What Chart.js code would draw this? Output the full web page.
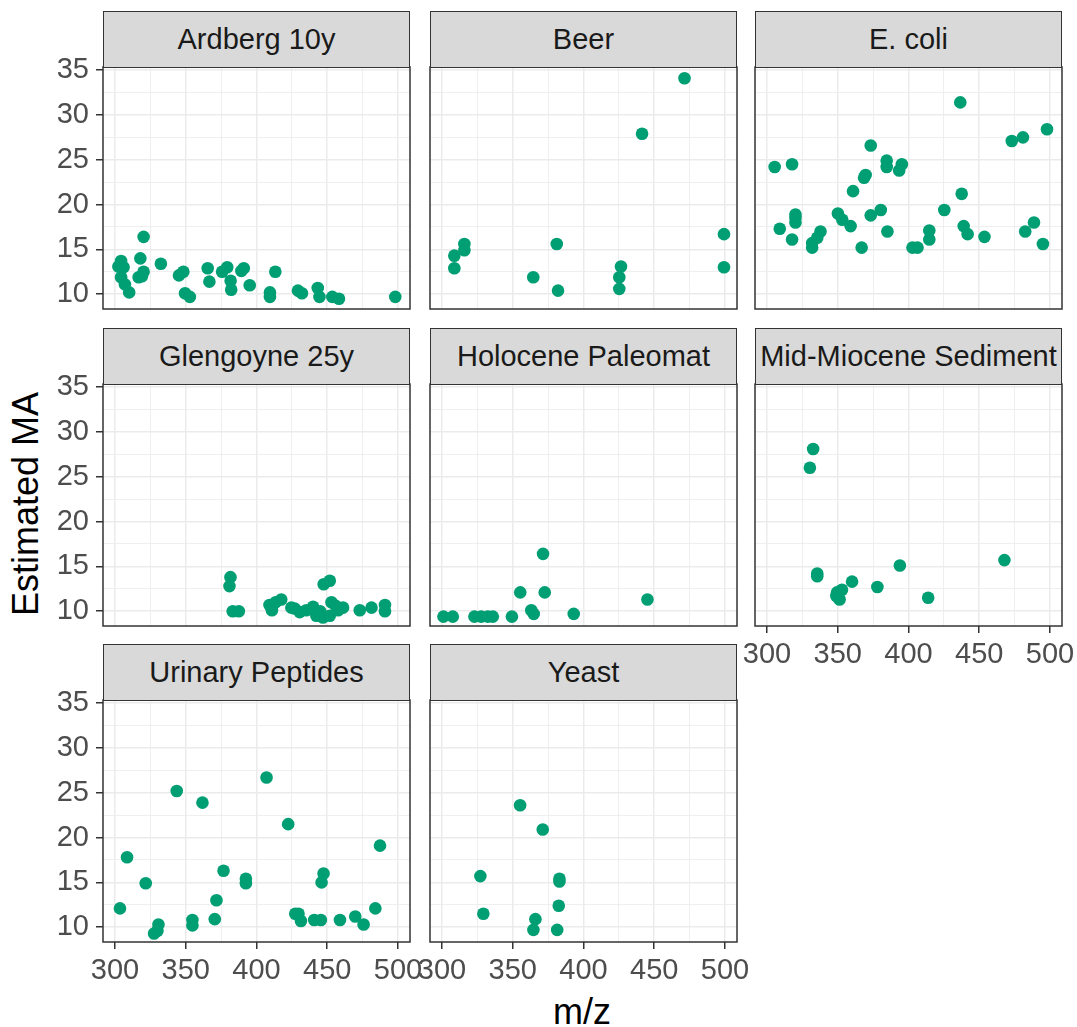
<!DOCTYPE html>
<html>
<head>
<meta charset="utf-8">
<script src="https://cdn.jsdelivr.net/npm/chart.js@4.4.1/dist/chart.umd.min.js"></script>
<style>
  body { margin: 0; background: #fff; width: 1077px; height: 1027px; position: relative; overflow: hidden;
         font-family: "Liberation Sans", Arial, sans-serif; }
  .panel { position: absolute; }
  .strip { position: absolute; box-sizing: border-box; background: #d9d9d9; border: 1.5px solid #333;
           color: #1a1a1a; font-size: 29px; display: flex; align-items: center; justify-content: center;
           white-space: nowrap; }
  .title { position: absolute; color: #000; font-size: 36px; white-space: nowrap; }
</style>
</head>
<body>
<div class="title" id="xtitle">m/z</div>
<div class="title" id="ytitle">Estimated MA</div>
<script>
const panelNames = ['Ardberg 10y', 'Beer', 'E. coli', 'Glengoyne 25y', 'Holocene Paleomat',
                    'Mid-Miocene Sediment', 'Urinary Peptides', 'Yeast'];

const mzTicks = [300, 325, 350, 375, 400, 425, 450, 475, 500];
const mzLabels = [300, 350, 400, 450, 500];
const maTicks = [10, 12.5, 15, 17.5, 20, 22.5, 25, 27.5, 30, 32.5, 35];
const maLabels = [10, 15, 20, 25, 30, 35];

const ardbergMz = [302.4, 304.3, 306, 304.3, 307, 310, 317.9, 320.2, 316.7, 319, 320.2, 332.4, 345.2, 348.3,
                   349.5, 352.9, 365.5, 366.7, 375.7, 379.3, 381.7, 382.1, 389.3, 391, 395.2, 409.5, 409.5,
                   413.3, 429.3, 432.1, 443.3, 444.5, 453.6, 458.3, 498.1];
const ardbergMa = [13.1, 13.7, 13.0, 11.9, 11.1, 10.2, 14.0, 12.5, 11.9, 12.0, 16.4, 13.4, 12.1, 12.5,
                   10.1, 9.7, 12.9, 11.4, 12.5, 13.0, 11.5, 10.5, 12.6, 12.9, 11.0, 10.2, 9.7,
                   12.5, 10.4, 10.1, 10.7, 9.7, 9.7, 9.5, 9.7];

const beerMz = [471.4, 441.4, 499.3, 499.3, 381.1, 364.5, 382, 426.5, 425.3, 425.3, 308.7, 308.7, 315.8, 315.8];
const beerMa = [34.1, 27.9, 16.7, 13.0, 15.6, 11.9, 10.4, 13.1, 11.9, 10.6, 14.3, 12.9, 15.6, 14.9];

const ecoliMz = [436.6, 497.9, 480.9, 473, 373.3, 305.4, 317.7, 384.6, 384.6, 395.3, 393.4, 369.7, 368.6, 360.8,
                 437.6, 425.3, 380.4, 373.3, 350.1, 353.2, 359.1, 320.1, 320.1, 320.1, 309, 317.7, 337.8, 335.5,
                 331.9, 331.9, 366.9, 385.1, 402.8, 406.4, 414.7, 414.7, 439, 441.8, 453.7, 482.5, 488.7, 495];
const ecoliMa = [31.4, 28.4, 27.5, 27.1, 26.6, 24.2, 24.5, 24.9, 24.2, 24.5, 23.8, 23.3, 23.0, 21.5,
                 21.2, 19.4, 19.4, 18.8, 19.0, 18.3, 17.6, 18.9, 18.5, 18.0, 17.3, 16.1, 17.0, 16.3,
                 15.7, 15.2, 15.2, 17.0, 15.2, 15.2, 17.1, 16.1, 17.6, 16.7, 16.4, 17.0, 18.0, 15.6];

const glengoyneMz = [381.6, 380.9, 383.2, 387.5, 451.8, 447.5, 409.2, 410.9, 417.5, 413.5, 424.6, 430.5, 440,
                     442.3, 447, 451.8, 453, 457.7, 461.2, 473, 481.3, 490.8, 490.8, 435.2, 427, 445, 456];
const glengoyneMa = [13.8, 12.8, 10.0, 10.0, 13.4, 13.0, 10.7, 10.1, 11.3, 11.0, 10.4, 9.9, 10.5,
                     9.5, 9.3, 9.5, 11.0, 10.1, 10.4, 10.1, 10.4, 10.7, 10.0, 10.1, 10.3, 10.0, 10.6];

const holoceneMz = [371.4, 355.3, 372.6, 363.1, 364.8, 349.4, 393.1, 445.2, 301, 307.6, 322.9, 327.7, 332.4, 335.9];
const holoceneMa = [16.4, 12.1, 12.1, 10.1, 9.7, 9.4, 9.7, 11.3, 9.4, 9.4, 9.4, 9.4, 9.4, 9.4];

const mioceneMz = [332.6, 330.3, 335.5, 335.5, 349.5, 351.3, 353, 360.1, 378, 393.9, 413.9, 467.8, 349];
const mioceneMa = [28.1, 26.0, 14.2, 13.9, 12.1, 11.3, 12.4, 13.3, 12.7, 15.1, 11.5, 15.7, 11.7];

const urinaryMz = [407.1, 343.6, 361.8, 422.4, 487.3, 308.5, 321.7, 303.5, 376.7, 392.5, 392.5, 371.7, 370.5,
                   354.7, 354.7, 330.7, 327.6, 330, 447.4, 446, 427.4, 429.7, 431.4, 440.8, 445.5, 459, 469.8,
                   475.7, 484];
const urinaryMa = [26.7, 25.2, 23.9, 21.5, 19.1, 17.8, 14.9, 12.1, 16.3, 15.4, 14.9, 13.0, 10.9,
                   10.8, 10.2, 10.3, 9.3, 9.6, 16.0, 15.0, 11.5, 11.5, 10.7, 10.8, 10.8, 10.8, 11.2,
                   10.3, 12.1];

const yeastMz = [355.2, 371.2, 327.1, 383, 383, 329.2, 382.5, 366, 364.6, 381.4];
const yeastMa = [23.6, 20.9, 15.7, 15.4, 15.1, 11.5, 12.4, 10.9, 9.7, 9.7];

const panelMz = [ardbergMz, beerMz, ecoliMz, glengoyneMz, holoceneMz, mioceneMz, urinaryMz, yeastMz];
const panelMa = [ardbergMa, beerMa, ecoliMa, glengoyneMa, holoceneMa, mioceneMa, urinaryMa, yeastMa];

// facet grid geometry (plot areas)
const colLeft = [103, 430, 755];
const rowTop = [67, 384, 700];
const panelW = 307, panelH = 242;
const axisW = 103, padTop = 32, padRight = 26, axisH = 70;
const font = '"Liberation Sans", Arial, sans-serif';

const panelFrame = {
    id: 'panelFrame',
    afterDraw(chart) {
        const { ctx, chartArea: a } = chart;
        ctx.save();
        ctx.strokeStyle = '#333333';
        ctx.lineWidth = 1.5;
        ctx.strokeRect(a.left, a.top, a.right - a.left, a.bottom - a.top);
        ctx.restore();
    }
};

function gridOpts(labels, showTicks) {
    return {
        color: '#ebebeb',
        lineWidth: ctx => labels.includes(ctx.tick.value) ? 1.5 : 0.8,
        drawTicks: showTicks,
        tickLength: 7,
        tickWidth: 1.5,
        tickColor: ctx => labels.includes(ctx.tick.value) ? '#333333' : 'rgba(0,0,0,0)'
    };
}

panelNames.forEach((name, i) => {
    const row = Math.floor(i / 3), col = i % 3;
    const showY = col === 0;
    const showX = row === 2 || i === 5;

    const canvas = document.createElement('canvas');
    canvas.className = 'panel';
    canvas.width = axisW + panelW + padRight;
    canvas.height = padTop + panelH + axisH;
    canvas.style.left = (colLeft[col] - axisW) + 'px';
    canvas.style.top = (rowTop[row] - padTop) + 'px';
    document.body.appendChild(canvas);

    const strip = document.createElement('div');
    strip.className = 'strip';
    strip.textContent = name;
    strip.style.left = colLeft[col] + 'px';
    strip.style.top = (rowTop[row] - 56) + 'px';
    strip.style.width = panelW + 'px';
    strip.style.height = '57px';
    document.body.appendChild(strip);

    const points = panelMz[i].map((x, k) => ({ x: x, y: panelMa[i][k] }));

    new Chart(canvas, {
        type: 'scatter',
        data: {
            datasets: [{
                data: points,
                pointRadius: 6.3,
                pointHoverRadius: 6.3,
                backgroundColor: '#009E73',
                borderWidth: 0
            }]
        },
        options: {
            responsive: false,
            animation: false,
            devicePixelRatio: 1,
            layout: { padding: { left: 0, top: padTop, right: padRight, bottom: 0 } },
            plugins: { legend: { display: false }, tooltip: { enabled: false } },
            scales: {
                x: {
                    type: 'linear',
                    min: 291.5,
                    max: 508.5,
                    afterBuildTicks: s => { s.ticks = mzTicks.map(v => ({ value: v })); },
                    afterFit: s => { s.height = axisH; },
                    grid: gridOpts(mzLabels, showX),
                    border: { display: false },
                    ticks: {
                        display: showX,
                        autoSkip: false,
                        maxRotation: 0,
                        padding: 5,
                        color: '#4d4d4d',
                        font: { family: font, size: 29 },
                        callback: v => mzLabels.includes(v) ? String(v) : ''
                    }
                },
                y: {
                    type: 'linear',
                    min: 8.35,
                    max: 35.35,
                    afterBuildTicks: s => { s.ticks = maTicks.map(v => ({ value: v })); },
                    afterFit: s => { s.width = axisW; },
                    grid: gridOpts(maLabels, showY),
                    border: { display: false },
                    ticks: {
                        display: showY,
                        autoSkip: false,
                        padding: 7,
                        color: '#4d4d4d',
                        font: { family: font, size: 29 },
                        callback: v => maLabels.includes(v) ? String(v) : ''
                    }
                }
            }
        },
        plugins: [panelFrame]
    });
});

// axis titles are centred on the panel cells (strips excluded)
const xt = document.getElementById('xtitle');
xt.style.left = (582 - xt.offsetWidth / 2) + 'px';
xt.style.top = (1012 - xt.offsetHeight / 2) + 'px';
const yt = document.getElementById('ytitle');
yt.style.left = (26 - yt.offsetWidth / 2) + 'px';
yt.style.top = (504 - yt.offsetHeight / 2) + 'px';
yt.style.transform = 'rotate(-90deg)';
</script>
</body>
</html>
